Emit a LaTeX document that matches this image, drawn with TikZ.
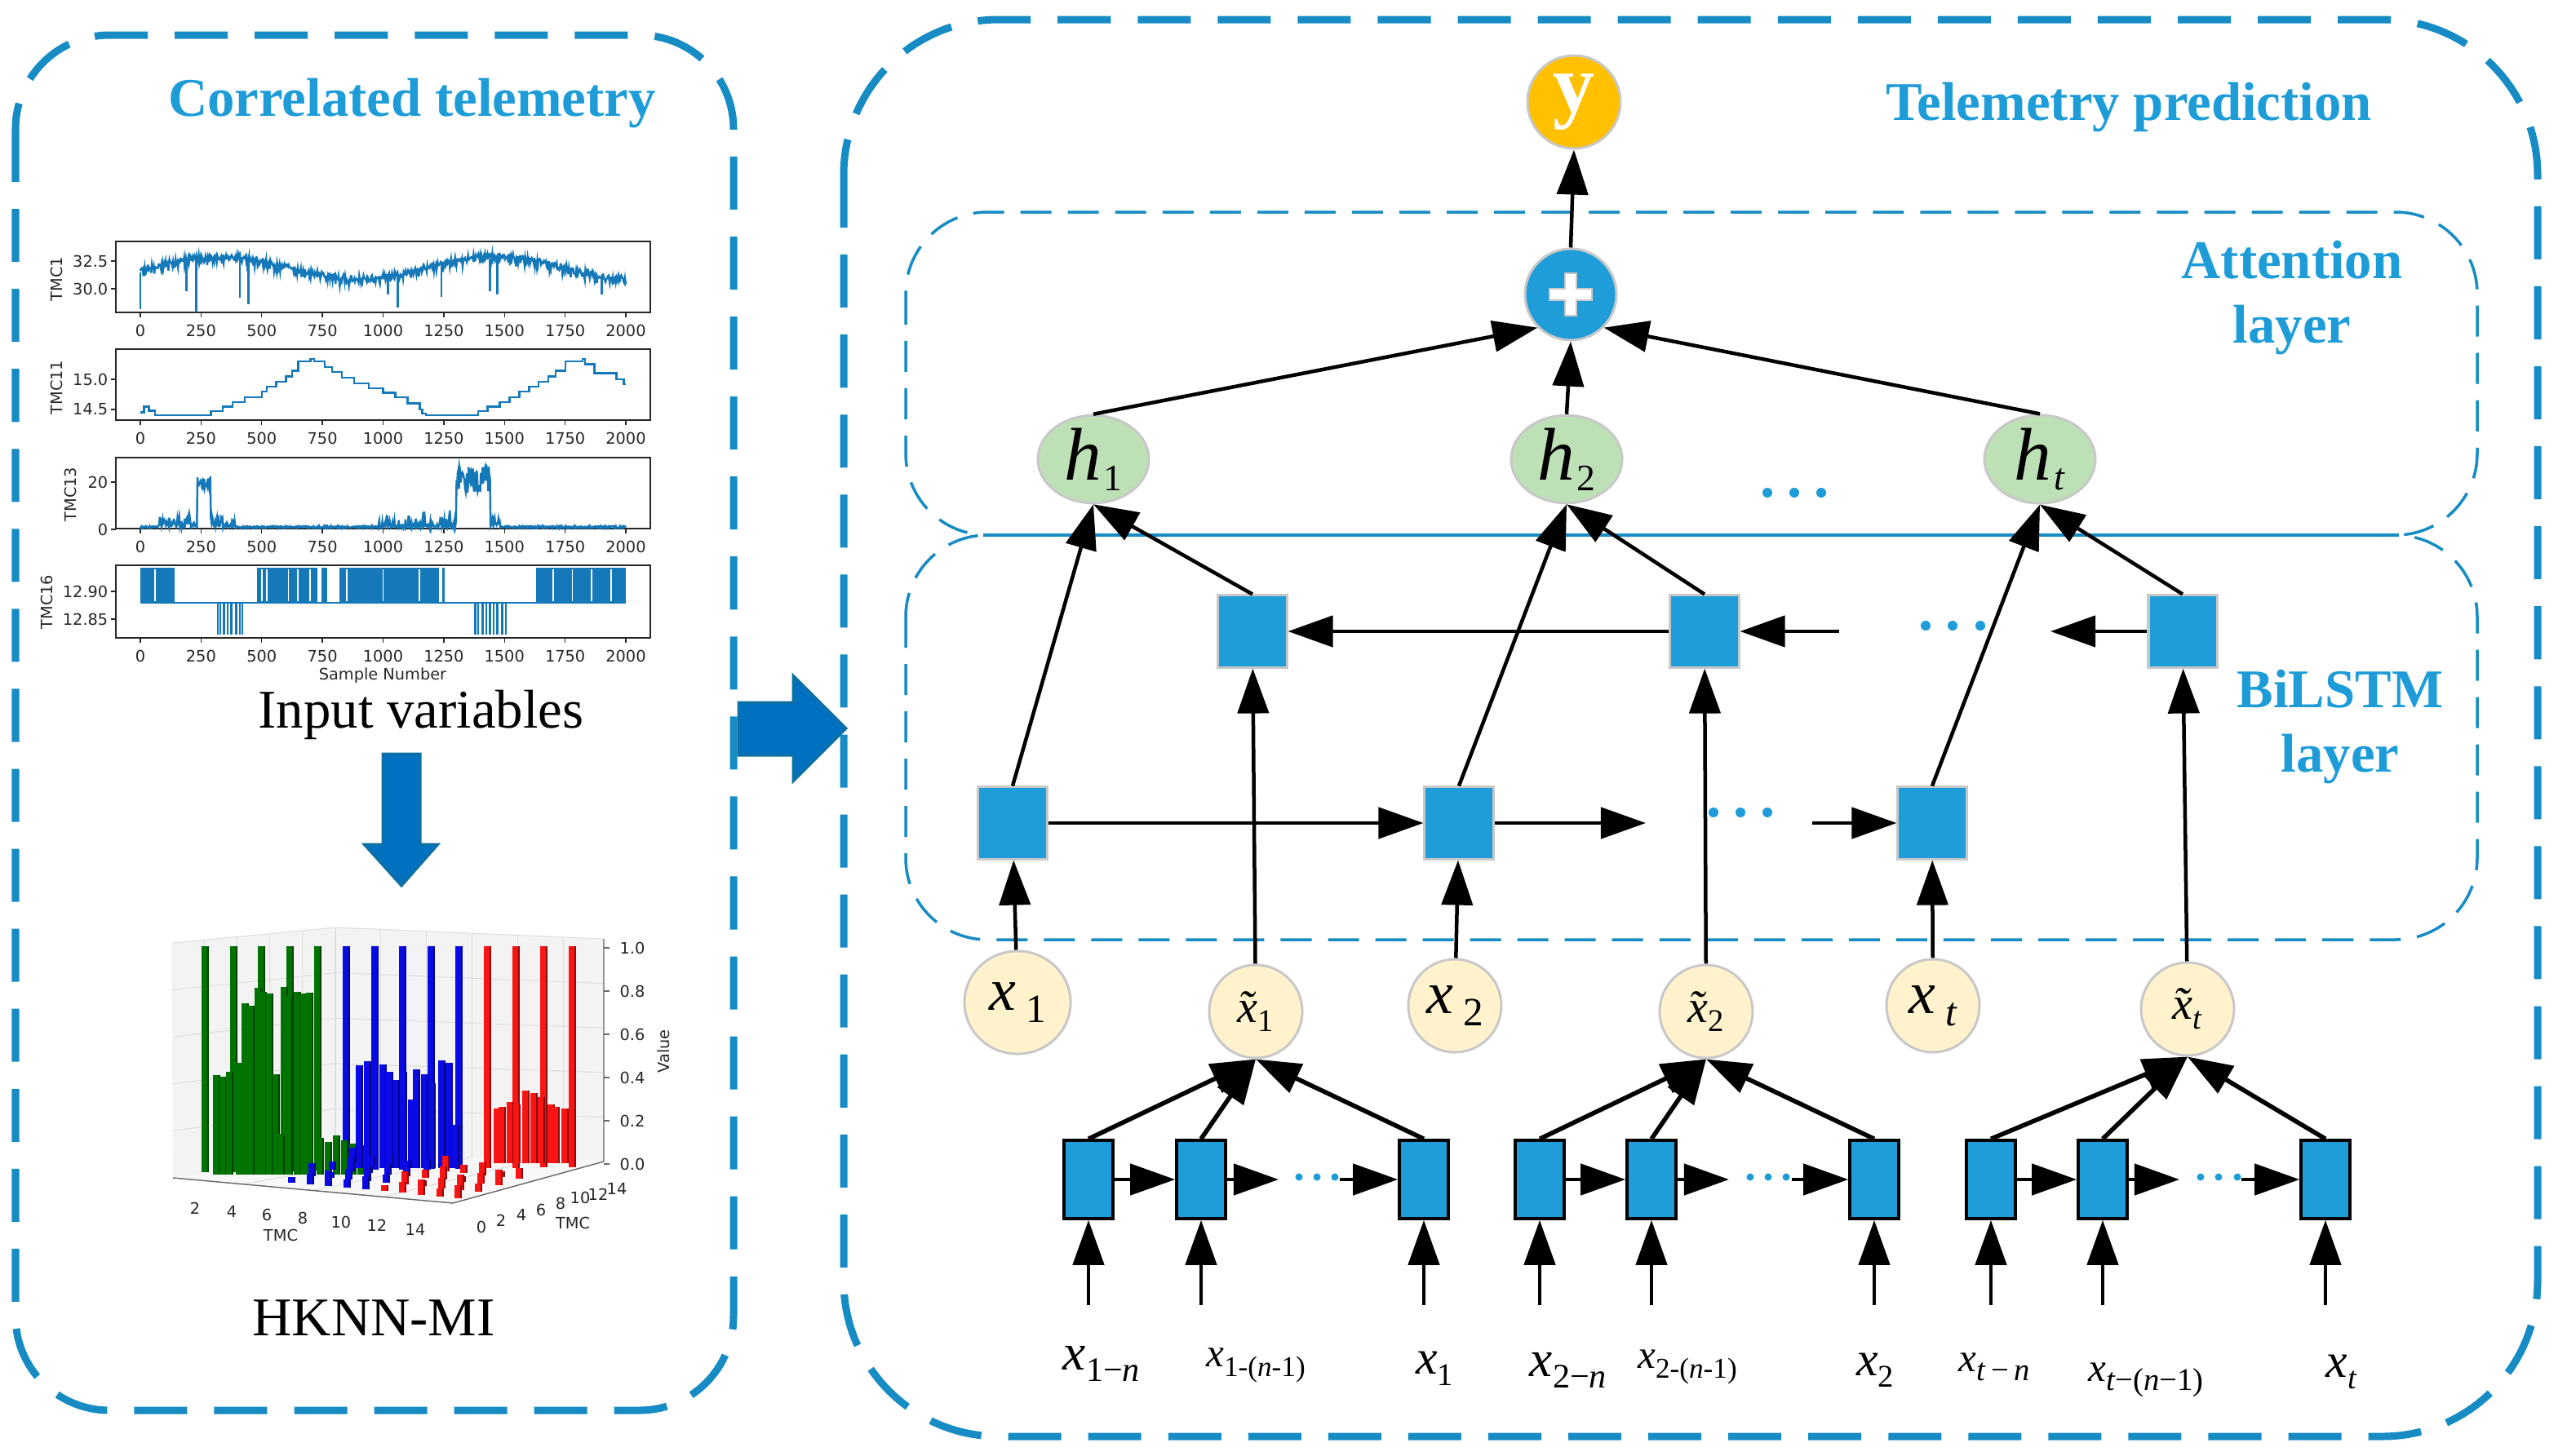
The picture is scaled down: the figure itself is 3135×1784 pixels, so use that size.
\documentclass[tikz,border=0pt]{standalone}
\usepackage{fontspec}
\setmainfont{Liberation Serif}
\newfontfamily\plotfont{DejaVu Sans}
\usetikzlibrary{arrows.meta,shapes}
\definecolor{framecol}{RGB}{22,139,196}
\definecolor{titlecol}{RGB}{30,156,216}
\definecolor{cellblue}{RGB}{30,157,216}
\definecolor{cellgray}{RGB}{200,200,200}
\definecolor{hgreen}{RGB}{190,224,182}
\definecolor{cream}{RGB}{255,242,204}
\definecolor{gold}{RGB}{255,192,0}
\definecolor{bigarrow}{RGB}{0,112,192}
\definecolor{bigarrowedge}{RGB}{14,112,160}
\definecolor{plotblue}{RGB}{20,120,185}
\definecolor{barg}{RGB}{0,115,0}
\definecolor{barb}{RGB}{10,10,230}
\definecolor{barr}{RGB}{250,20,20}
\definecolor{panecol}{RGB}{243,243,243}
\definecolor{ticktext}{RGB}{38,38,38}
\tikzstyle{outerbox} = [draw=framecol, line width=0.09cm, dash pattern=on 0.65cm off 0.33cm]
\tikzstyle{innerbox} = [draw=framecol, line width=0.035cm, dash pattern=on 0.38cm off 0.2cm, rounded corners=1cm]
\tikzstyle{title} = [text=titlecol, font=\fontsize{19}{22.5}\selectfont\bfseries, align=center, inner sep=0pt]
\tikzstyle{caption} = [font=\fontsize{19}{22.5}\selectfont, inner sep=0pt]
\tikzstyle{cell} = [rectangle, draw=cellgray, line width=0.03cm, fill=cellblue,
    minimum width=0.84cm, minimum height=0.88cm, inner sep=0pt]
\tikzstyle{conv} = [rectangle, draw=black, line width=0.035cm, fill=cellblue,
    minimum width=0.6cm, minimum height=0.96cm, inner sep=0pt]
\tikzstyle{hidden} = [ellipse, draw=cellgray, line width=0.03cm, fill=hgreen,
    minimum width=1.36cm, minimum height=0.9cm, inner sep=0pt]
\tikzstyle{input} = [ellipse, draw=cellgray, line width=0.03cm, fill=cream,
    minimum width=1.14cm, minimum height=1.14cm, inner sep=0pt]
\tikzstyle{inputbig} = [input, minimum width=1.3cm, minimum height=1.26cm]
\tikzstyle{output} = [circle, draw=cellgray, line width=0.03cm, fill=gold, minimum size=1.14cm, inner sep=0pt, text=white]
\tikzstyle{sum} = [circle, draw=cellgray, line width=0.03cm, fill=cellblue, minimum size=1.12cm, inner sep=0pt]
\tikzstyle{line} = [draw, line width=0.045cm, -{Triangle[length=0.55cm,width=0.38cm]}]
\tikzstyle{boxline} = [line, line width=0.055cm]
\tikzstyle{plotframe} = [draw=ticktext, line width=0.4pt]
\tikzstyle{ticklab} = [font=\plotfont\fontsize{5.5}{6}\selectfont, text=ticktext, inner sep=0pt]
\tikzstyle{series} = [draw=plotblue, line width=0.7pt]
\tikzstyle{gridline} = [draw=black!13, line width=0.3pt]
\tikzstyle{axisline} = [draw=black!60, line width=0.4pt]
\newcommand{\hlab}[1]{\fontsize{26}{26}\selectfont\textit{h}\kern0.03em\raisebox{-0.3ex}{\fontsize{13}{13}\selectfont #1}}
\newcommand{\inlab}[3]{\fontsize{#1}{#1}\selectfont\textit{x}\,\raisebox{-0.45ex}{\fontsize{#2}{#2}\selectfont #3}}
\newcommand{\tildex}{\textit{x}\llap{\textit{\char"02DC}\kern0.04em}}
\newcommand{\intlab}[3]{\fontsize{#1}{#1}\selectfont\tildex\raisebox{-0.45ex}{\fontsize{#2}{#2}\selectfont #3}}
\newcommand{\xlab}[3]{\fontsize{#1}{#1}\selectfont\textit{x}\raisebox{-0.5ex}{\fontsize{#2}{#2}\selectfont #3}}
\newcommand{\chartbar}[4]{\fill[#4] ({#1-4},{#2}) rectangle ({#1+3},{#3});
    \fill[#4!55!black] ({#1+3},{#2}) rectangle ({#1+5},{#3});}
\begin{document}
\begin{tikzpicture}[x=0.01cm, y=-0.01cm]
\useasboundingbox (0,0) rectangle (3135,1784);
% Frames
\draw[outerbox, rounded corners=1.15cm] (19,43) rectangle (899,1729);
\draw[outerbox, rounded corners=1.9cm] (1034,24) rectangle (3110,1761);
\draw[innerbox] (1110,260) rectangle (3036,656);
\draw[innerbox] (1110,656) rectangle (3036,1152);
\draw[framecol, line width=0.035cm] (1205,656) -- (2940,656);
% Titles
\node[title] (corr) at (505,127) {Correlated telemetry};
\node[title] (pred) at (2609,132) {Telemetry prediction};
\node[title] (attn) at (2809,365) {Attention\\layer};
\node[title] (bilstm) at (2868,891) {BiLSTM\\layer};
\node[caption] (inputs) at (516,876) {Input variables};
\node[caption] (hknn) at (458,1616) {HKNN-MI};
% Block arrows
\filldraw[fill=bigarrow, draw=bigarrowedge, line width=0.03cm] (905,861) -- (972,861) -- (972,828)
    -- (1037,893) -- (972,958) -- (972,926) -- (905,926) -- cycle;
\filldraw[fill=bigarrow, draw=bigarrowedge, line width=0.03cm] (469,924) -- (515,924) -- (515,1035)
    -- (537,1035) -- (492,1086) -- (446,1035) -- (469,1035) -- cycle;
% Time series panels
\pgfmathsetseed{7}
\foreach \pt/\pb in {296/383, 428/515, 561/648, 693/782} {
  \draw[plotframe] (142,\pt) rectangle (797,\pb);
  \foreach \v in {0,250,...,2000} {
    \draw[plotframe] ({172+0.2975*\v},\pb) -- ({172+0.2975*\v},{\pb+6});
    \node[ticklab] (tick\pb-\v) at ({172+0.2975*\v},{\pb+22}) {\v};
  }
}
\foreach \yv/\yt in {320/32.5, 354/30.0, 465/15.0, 502/14.5, 591/20, 649/0, 725/12.90, 759/12.85} {
  \draw[plotframe] (142,\yv) -- (136,\yv);
  \node[ticklab, anchor=east] (ylab\yv) at (133,\yv) {\yt};
}
\node[ticklab, rotate=90] (tmc1) at (69,342) {TMC1};
\node[ticklab, rotate=90] (tmc11) at (69,475) {TMC11};
\node[ticklab, rotate=90] (tmc13) at (86,606) {TMC13};
\node[ticklab, rotate=90] (tmc16) at (57,738) {TMC16};
\node[ticklab] (sample) at (469,828) {Sample Number};
\begin{scope}[shift={(172,354)}, x=0.002975cm, y=0.136cm]
  \draw[series] plot[domain=0:2000, samples=800] (\x,{2.05+1.0*cos((\x-330)*0.3186)+0.2*rand-0.9*rnd*rnd});
  \foreach \sx/\sl in {0/28.2, 190/29.8, 230/27.9, 410/29.2, 445/28.6, 1020/29.5, 1060/28.3, 1240/29.3, 1440/29.8, 1470/29.5, 1900/29.5} {
    \pgfmathsetmacro{\st}{1.75+0.95*cos((\sx-330)*0.3186)}
    \draw[series] (\sx,\st) -- (\sx,{\sl-30});
  }
\end{scope}
\begin{scope}[shift={(172,502)}, x=0.002975cm, y=0.74cm]
  \draw[series] plot[const plot] coordinates {(0,-0.05) (15,0.05) (35,-0.02) (60,-0.095) (290,-0.03)
    (340,0.05) (380,0.12) (430,0.2) (500,0.3) (520,0.38) (560,0.46) (600,0.55) (625,0.64) (650,0.8)
    (700,0.84) (715,0.8) (760,0.7) (790,0.62) (830,0.53) (880,0.43) (940,0.35) (1000,0.28) (1050,0.2)
    (1100,0.1) (1150,0.0) (1160,-0.07) (1175,-0.095) (1390,-0.03) (1430,0.05) (1480,0.12) (1520,0.2)
    (1560,0.3) (1600,0.38) (1640,0.46) (1680,0.55) (1710,0.64) (1750,0.8) (1820,0.84) (1830,0.75)
    (1870,0.6) (1960,0.5) (1990,0.42) (2000,0.42)};
\end{scope}
\begin{scope}[shift={(172,649)}, x=0.002975cm, y=0.029cm]
  \draw[series] plot[domain=0:2000, samples=800] (\x,{0.6+0.8*rnd+(\x>70)*(\x<235)*7*rnd*rnd
    +(\x>290)*(\x<390)*6*rnd*rnd+(\x>235)*(\x<290)*(16+5*rnd)+(\x>980)*(\x<1300)*8*rnd*rnd*rnd
    +(\x>1300)*(\x<1440)*(14+12*rnd)+(\x>1440)*(\x<1480)*4*rnd});
\end{scope}
\draw[series] (172,739) -- (767,739);
\foreach \ha/\hb in {0/140, 480/730, 745/770, 820/1230, 1245/1255, 1630/2000}
  {\fill[plotblue] ({172+0.2975*\ha},696) rectangle ({172+0.2975*\hb},739);}
\foreach \g in {60, 500, 520, 610, 650, 700, 850, 1000, 1150, 1700, 1780, 1860, 1940}
  {\draw[white, line width=0.5pt] ({172+0.2975*\g},698) -- ({172+0.2975*\g},737);}
\foreach \g in {320,330,345,360,375,395,410,420,1380,1392,1410,1425,1440,1455,1470,1490,1505}
  {\draw[series] ({172+0.2975*\g},739) -- ({172+0.2975*\g},778);}
% Correlation bar chart
\fill[panecol] (210,1156) -- (411,1137) -- (411,1415) -- (212,1444) -- cycle;
\fill[panecol] (411,1137) -- (740,1151) -- (740,1424) -- (411,1415) -- cycle;
\fill[panecol!70!white] (212,1444) -- (411,1415) -- (740,1424) -- (555,1475) -- cycle;
\foreach \z in {0.2,0.4,0.6,0.8,1.0}
  {\draw[gridline] (212,{1444-288*\z}) -- (411,{1415-278*\z}) -- (740,{1424-273*\z});}
\foreach \tg in {0.2,0.4,0.6,0.8}
  {\draw[gridline] ({212+199*\tg},{1444-29*\tg}) -- ({210+201*\tg},{1156-19*\tg});}
\foreach \tg in {0.17,0.34,0.51,0.68,0.85}
  {\draw[gridline] ({411+329*\tg},{1415+9*\tg}) -- ({411+329*\tg},{1137+14*\tg});}
\foreach \tg in {0.25,0.5,0.75}
  {\draw[gridline] ({212+343*\tg},{1444+31*\tg}) -- ({411+329*\tg},{1415+9*\tg});}
\draw[gridline] (411,1137) -- (411,1415);
\draw[axisline] (212,1444) -- (555,1475) -- (740,1424) -- (740,1151);
\foreach \z/\zl in {0/0.0, 0.2/0.2, 0.4/0.4, 0.6/0.6, 0.8/0.8, 1/1.0} {
  \draw[axisline] (740,{1427-265*\z}) -- (747,{1427-265*\z});
  \node[ticklab] (val\zl) at (775,{1427-265*\z}) {\zl};
}
\foreach \k in {1,...,14} {
  \pgfmathsetmacro{\bx}{251+34.6*(\k-1)}
  \pgfmathsetmacro{\by}{1437-0.5*(\k-1)}
  \ifnum\k<6 \def\barcol{barg}\else\ifnum\k<11 \def\barcol{barb}\else\def\barcol{barr}\fi\fi
  \chartbar{\bx}{\by}{1160}{\barcol}
}
\foreach \bx/\bt in {265/1318, 273/1320, 281/1314, 293/1303, 300/1230, 307/1233, 316/1211, 322/1216,
    330/1218, 338/1317, 348/1210, 354/1221, 364/1216, 372/1218, 379/1217, 344/1390,
    392/1395, 402/1400, 412/1392, 422/1398, 432/1402, 442/1404}
  {\chartbar{\bx}{1440}{\bt}{barg}}
\foreach \bx/\bt in {440/1306, 450/1301, 459/1300, 469/1305, 477/1314, 485/1324, 494/1314, 504/1348,
    510/1311, 520/1317, 529/1328, 541/1300, 550/1303, 558/1379}
  {\chartbar{\bx}{1432}{\bt}{barb}}
\foreach \bx/\bt in {609/1359, 615/1357, 625/1351, 633/1354, 644/1337, 654/1340, 663/1345, 675/1354,
    681/1357, 692/1359}
  {\chartbar{\bx}{1426}{\bt}{barr}}
\foreach \row in {3,2,1,0} {
  \foreach \col in {0,...,9} {
    \pgfmathsetmacro{\sx}{357+22.7*\col+25*\row}
    \pgfmathsetmacro{\sy}{1450+2.07*\col-8*\row}
    \pgfmathsetmacro{\sh}{7+3*mod(7*\col+3*\row,5)}
    \ifnum\col<5 \def\stubcol{barb}\else\def\stubcol{barr}\fi
    \chartbar{\sx}{\sy}{\sy-\sh}{\stubcol}
  }
}
\foreach \cxa/\cya/\cta in {239/1481/2, 284/1485/4, 327/1489/6, 371/1493/8, 418/1498/10, 462/1502/12,
    509/1507/14, 590/1504/0, 614/1496/2, 639/1489/4, 663/1483/6, 687/1475/8, 711/1468/10,
    733/1464/12, 756/1457/14}
  {\node[ticklab] (ax\cxa) at (\cxa,\cya) {\cta};}
\node[ticklab] (tmca) at (344,1514) {TMC};
\node[ticklab] (tmcb) at (702,1499) {TMC};
\node[ticklab, rotate=90] (value) at (813,1289) {Value};
% Attention and BiLSTM nodes
\node[output] (yout) at (1929,125) {\fontsize{29}{29}\selectfont\bfseries y};
\node[sum] (sum) at (1925,361) {};
\filldraw[fill=white, draw=cellgray, line width=0.02cm] ([shift={(-26,-7)}]sum.center) -- ++(19,0)
    -- ++(0,-19) -- ++(14,0) -- ++(0,19) -- ++(19,0) -- ++(0,14) -- ++(-19,0) -- ++(0,19)
    -- ++(-14,0) -- ++(0,-19) -- ++(-19,0) -- cycle;
\node[hidden] (h1) at (1340,563) {\hlab{1}};
\node[hidden] (h2) at (1920,563) {\hlab{2}};
\node[hidden] (ht) at (2500,563) {\hlab{\textit{t}}};
\node[cell] (bw1) at (1535,774) {};
\node[cell] (bw2) at (2089,774) {};
\node[cell] (bw3) at (2675,774) {};
\node[cell] (fw1) at (1241,1009) {};
\node[cell] (fw2) at (1788,1009) {};
\node[cell] (fw3) at (2368,1009) {};
\node[inputbig] (in1) at (1247,1229) {\inlab{21}{14}{1}};
\node[input] (it1) at (1539,1240) {\intlab{16}{11}{1}};
\node[input] (in2) at (1783,1233) {\inlab{21}{14}{2}};
\node[input] (it2) at (2091,1240) {\intlab{16}{11}{2}};
\node[input] (int) at (2369,1233) {\inlab{21}{14}{\textit{t}}};
\node[input] (itt) at (2681,1237) {\intlab{16}{11}{\textit{t}}};
\foreach \cn/\cx in {cA/1334, cB/1472, cC/1745, cD/1887, cE/2024, cF/2297, cG/2440, cH/2577, cI/2850} {
  \node[conv] (\cn) at (\cx,1446) {};
  \coordinate (in\cn) at (\cx,1600);
}
\node (l1) at (1350,1672) {\xlab{18}{12}{1−\textit{n}}};
\node (l2) at (1539,1674) {\xlab{14}{10}{1-(\textit{n}-1)}};
\node (l3) at (1758,1678) {\xlab{17}{11}{1}};
\node (l4) at (1922,1680) {\xlab{18}{12}{2−\textit{n}}};
\node (l5) at (2068,1676) {\xlab{14}{10}{2-(\textit{n}-1)}};
\node (l6) at (2298,1680) {\xlab{17}{11}{2}};
\node (l7) at (2444,1676) {\xlab{14}{11}{\textit{t}\,−\,\textit{n}}};
\node (l8) at (2630,1692) {\xlab{14}{11}{\textit{t}−(\textit{n}−1)}};
\node (l9) at (2870,1682) {\xlab{17}{11}{\textit{t}}};
\coordinate (fwend) at (2017,1009);
\coordinate (fwstart) at (2221,1009);
\coordinate (bwstart) at (2254,774);
\coordinate (bwend) at (2513,774);
\coordinate (cBend) at (1567,1446);
\coordinate (cCstart) at (1642,1446);
\coordinate (cEend) at (2119,1446);
\coordinate (cFstart) at (2196,1446);
\coordinate (cHend) at (2671,1446);
\coordinate (cIstart) at (2747,1446);
% Dots
\foreach \dx/\dy in {2166/604, 2199/604, 2232/604, 2360/767, 2393/767, 2427/767, 2100/996, 2133/996, 2166/996}
  {\fill[titlecol] (\dx,\dy) circle (0.06cm);}
\foreach \dx in {1592, 1614, 1636, 2145, 2167, 2189, 2697, 2719, 2742}
  {\fill[titlecol] (\dx,1443) circle (0.045cm);}
% Draw edges
\path [line] (sum.north) -- (yout.south);
\path [line] (h1.north) -- (sum.south west);
\path [line] (h2.north) -- (sum.south);
\path [line] (ht.north) -- (sum.south east);
\path [line] (fw1.north) -- (h1.south);
\path [line] (bw1.north) -- (h1.south);
\path [line] (fw2.north) -- (h2.south);
\path [line] (bw2.north) -- (h2.south);
\path [line] (fw3.north) -- (ht.south);
\path [line] (bw3.north) -- (ht.south);
\path [line] (fw1) -- (fw2);
\path [line] (fw2) -- (fwend);
\path [line] (fwstart) -- (fw3);
\path [line] (bw2) -- (bw1);
\path [line] (bwstart) -- (bw2);
\path [line] (bw3) -- (bwend);
\path [line] (in1) -- (fw1);
\path [line] (it1) -- (bw1);
\path [line] (in2) -- (fw2);
\path [line] (it2) -- (bw2);
\path [line] (int) -- (fw3);
\path [line] (itt) -- (bw3);
\foreach \cn/\tn in {cA/it1, cB/it1, cC/it1, cD/it2, cE/it2, cF/it2, cG/itt, cH/itt, cI/itt}
  {\path [boxline] (\cn.north) -- (\tn.south);}
\path [line] (cA) -- (cB);
\path [line] (cB) -- (cBend);
\path [line] (cCstart) -- (cC);
\path [line] (cD) -- (cE);
\path [line] (cE) -- (cEend);
\path [line] (cFstart) -- (cF);
\path [line] (cG) -- (cH);
\path [line] (cH) -- (cHend);
\path [line] (cIstart) -- (cI);
\foreach \cn in {cA,cB,cC,cD,cE,cF,cG,cH,cI}
  {\path [line] (in\cn) -- (\cn);}
\end{tikzpicture}
\end{document}
